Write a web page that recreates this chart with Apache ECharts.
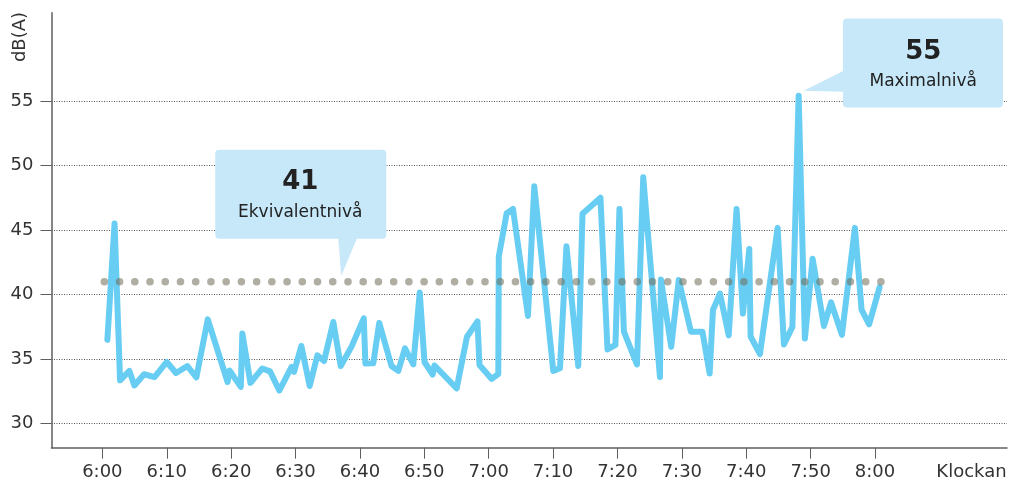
<!DOCTYPE html>
<html>
<head>
<meta charset="utf-8">
<script src="https://cdn.jsdelivr.net/npm/echarts@6/dist/echarts.min.js"></script>
<style>
  html, body { margin: 0; padding: 0; background: #ffffff; }
  #chart { width: 1012px; height: 483px; }
</style>
</head>
<body>
<div id="chart"></div>
<script>
// Sample times, in minutes after 06:00
const sampleMinutes = [
  0.78, 1.89, 2.75, 4.19, 4.97, 6.48, 8.1, 10.0, 11.44, 13.2, 14.6, 16.37,
  19.45, 19.75, 21.5, 21.74, 23.0, 24.84, 26.04, 27.48, 29.38, 29.77, 30.9, 32.2,
  33.39, 34.43, 35.87, 37.02, 38.7, 40.6, 40.85, 42.08, 43.0, 44.9, 45.96, 47.0,
  48.29, 49.29, 50.03, 51.3, 51.58, 55.03, 56.63, 58.26, 58.57, 60.47, 61.49, 61.57,
  62.8, 63.77, 66.1, 67.08, 70.03, 71.07, 72.08, 73.91, 74.57, 77.36, 78.45, 79.69,
  80.31, 81.0, 83.03, 84.0, 86.6, 86.75, 88.35, 89.52, 91.41, 93.2, 94.32, 94.83,
  95.92, 97.28, 98.5, 99.49, 100.47, 100.68, 102.13, 104.88, 105.85, 107.17, 108.14, 109.11,
  110.31, 112.07, 113.18, 114.86, 116.88, 117.92, 119.08, 120.71
];

// Sound level at each sample, dB(A)
const soundLevels = [
  36.5, 45.5, 33.36, 34.09, 32.96, 33.83, 33.6, 34.78, 33.93, 34.47, 33.58, 38.08,
  33.23, 34.12, 32.85, 36.99, 33.16, 34.28, 34.05, 32.57, 34.4, 34.01, 36.02, 32.92,
  35.29, 34.86, 37.88, 34.47, 35.97, 38.16, 34.67, 34.68, 37.81, 34.47, 34.09, 35.83,
  34.59, 40.17, 34.78, 33.81, 34.51, 32.73, 36.74, 37.92, 34.55, 33.47, 33.85, 42.95,
  46.31, 46.64, 38.35, 48.39, 34.09, 34.29, 43.74, 34.47, 46.26, 47.5, 35.75, 36.1,
  46.64, 37.13, 34.59, 49.09, 33.62, 41.18, 35.95, 41.14, 37.13, 37.13, 33.89, 38.81,
  40.08, 36.84, 46.64, 38.54, 43.54, 36.74, 35.4, 45.17, 36.14, 37.5, 55.4, 36.6,
  42.77, 37.57, 39.4, 36.88, 45.17, 38.81, 37.69, 40.56
];

// Equivalent level and the period it covers (minutes after 06:00)
const equivalentLevel = 41;
const equivalentSpan = [0.3, 121];

// Axis ticks
const timeTicks = [0, 10, 20, 30, 40, 50, 60, 70, 80, 90, 100, 110, 120];
const timeTickLabels = ['6:00', '6:10', '6:20', '6:30', '6:40', '6:50', '7:00',
                        '7:10', '7:20', '7:30', '7:40', '7:50', '8:00'];
const levelTicks = [30, 35, 40, 45, 50, 55];

const FONT = 'DejaVu Sans, Verdana, sans-serif';
const chart = echarts.init(document.getElementById('chart'), null, { renderer: 'canvas' });

const lineData = sampleMinutes.map((m, i) => [m, soundLevels[i]]);
const leqData = equivalentSpan.map(m => [m, equivalentLevel]);

chart.setOption({
  animation: false,
  backgroundColor: '#ffffff',
  grid: { left: 51.5, right: 5, top: 12.7, bottom: 35.3, outerBoundsMode: 'none' },
  xAxis: {
    type: 'value',
    min: -7.9,
    max: 140.5,
    axisLine: { show: true, onZero: false, lineStyle: { color: '#5f5f5f', width: 1.5 } },
    axisTick: { show: true, customValues: timeTicks, length: 11, lineStyle: { color: '#5f5f5f', width: 1 } },
    axisLabel: {
      customValues: timeTicks,
      formatter: v => timeTickLabels[timeTicks.indexOf(v)],
      fontSize: 18, color: '#333', fontFamily: FONT, margin: 16
    },
    splitLine: { show: false }
  },
  yAxis: {
    type: 'value',
    min: 28.14,
    max: 61.84,
    axisLine: { show: true, onZero: false, lineStyle: { color: '#5f5f5f', width: 1.5 } },
    axisTick: { show: true, customValues: levelTicks, length: 11, lineStyle: { color: '#5f5f5f', width: 1 } },
    axisLabel: {
      customValues: levelTicks,
      fontSize: 18, color: '#333', fontFamily: FONT, margin: 18
    },
    splitLine: { show: true, lineStyle: { type: [1, 1.5], color: '#555', width: 1 } }
  },
  series: [
    {
      name: 'Ljudnivå',
      type: 'line',
      data: lineData,
      symbol: 'none',
      z: 2,
      lineStyle: { color: '#68cdf2', width: 6, join: 'round', cap: 'round' }
    },
    {
      name: 'Ekvivalentnivå',
      type: 'line',
      data: leqData,
      symbol: 'none',
      z: 3,
      lineStyle: { color: 'rgba(112,108,86,0.55)', width: 7.5, type: [0.1, 15.2], cap: 'round' }
    }
  ]
});

// Fit a whole number of dots onto the equivalent-level line (52 dots, last one at the end)
const a = chart.convertToPixel({ gridIndex: 0 }, leqData[0]);
const b = chart.convertToPixel({ gridIndex: 0 }, leqData[1]);
const period = (b[0] - a[0] - 0.6) / 51;

// Callout boxes anchored to the data they describe
const maxLevel = Math.max(...soundLevels);
const maxIdx = soundLevels.indexOf(maxLevel);
const leqAnchor = chart.convertToPixel({ gridIndex: 0 }, [37.1, equivalentLevel]);
const t1 = [leqAnchor[0], leqAnchor[1] - 6];
const maxAnchor = chart.convertToPixel({ gridIndex: 0 }, lineData[maxIdx]);
const t2 = [maxAnchor[0] + 5, maxAnchor[1] - 5];

const BOX = '#c6e8f9';
const TXT = '#222';

chart.setOption({
  series: [{}, { lineStyle: { type: [0.1, period - 0.1] } }],
  graphic: [
    // y-axis unit
    { type: 'text', x: 20, y: 37, rotation: Math.PI / 2,
      style: { text: 'dB(A)', font: '18px ' + FONT, fill: '#333', align: 'center', verticalAlign: 'middle' } },
    // x-axis title
    { type: 'text', x: 971.5, y: 472,
      style: { text: 'Klockan', font: '18px ' + FONT, fill: '#333', align: 'center', verticalAlign: 'middle' } },

    // Equivalent level callout
    { type: 'rect', z: 10, shape: { x: t1[0] - 126, y: t1[1] - 126, width: 171, height: 89, r: 4 }, style: { fill: BOX } },
    { type: 'polygon', z: 10, shape: { points: [[t1[0] - 3, t1[1] - 38], [t1[0] + 16, t1[1] - 38], t1] }, style: { fill: BOX } },
    { type: 'text', z: 11, x: t1[0] - 41, y: t1[1] - 93,
      style: { text: String(equivalentLevel), font: 'bold 26px ' + FONT, fill: TXT, align: 'center', verticalAlign: 'middle' } },
    { type: 'text', z: 11, x: t1[0] - 41, y: t1[1] - 63,
      style: { text: 'Ekvivalentnivå', font: '17px ' + FONT, fill: TXT, align: 'center', verticalAlign: 'middle' } },

    // Maximum level callout
    { type: 'rect', z: 10, shape: { x: t2[0] + 39.3, y: t2[1] - 72.3, width: 160, height: 89, r: 4 }, style: { fill: BOX } },
    { type: 'polygon', z: 10, shape: { points: [[t2[0] + 40, t2[1] - 20], t2, [t2[0] + 40, t2[1] + 1]] }, style: { fill: BOX } },
    { type: 'text', z: 11, x: t2[0] + 119.6, y: t2[1] - 38.3,
      style: { text: String(Math.round(maxLevel)), font: 'bold 26px ' + FONT, fill: TXT, align: 'center', verticalAlign: 'middle' } },
    { type: 'text', z: 11, x: t2[0] + 119.6, y: t2[1] - 9.6,
      style: { text: 'Maximalnivå', font: '17px ' + FONT, fill: TXT, align: 'center', verticalAlign: 'middle' } }
  ]
});
</script>
</body>
</html>
